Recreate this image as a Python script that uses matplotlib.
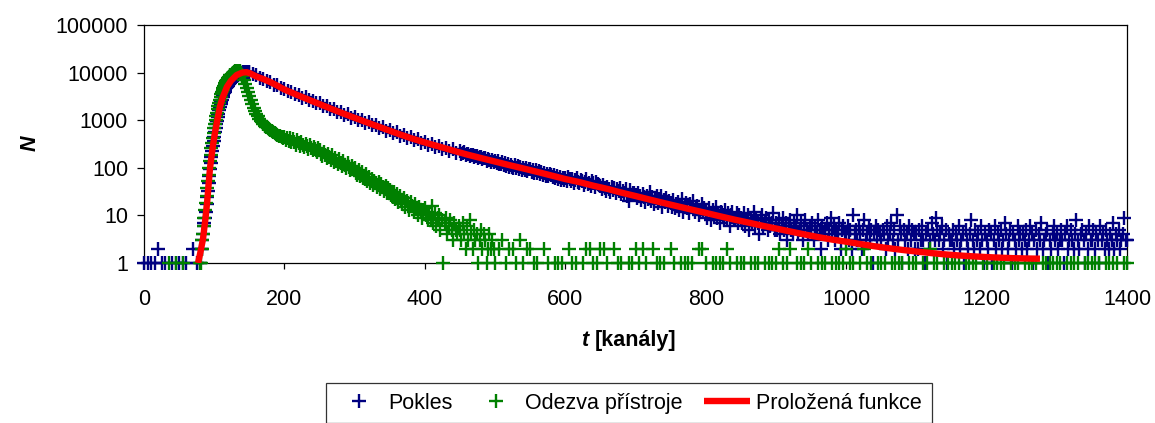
import numpy as np
import matplotlib
matplotlib.use('Agg')
import matplotlib.pyplot as plt
from matplotlib.ticker import NullLocator

plt.rcParams['font.family'] = 'Liberation Sans'

# --- measured decay (Pokles), counts per channel ---
pokles_t = np.concatenate([np.arange(0, 80, 5), np.arange(80, 150),
                           np.arange(150, 450, 5), np.arange(450, 1401, 2)])
pokles_n = [
    # 0 - 75
    1, 1, 1, 1, 2, 1, 1, 0, 1, 1, 1, 1, 1, 0, 2, 1,
    # 80 - 149
    1, 2, 2, 3, 4, 6, 7, 9, 12, 17, 24, 33, 48, 66, 95, 128, 170, 225, 290, 370,
    450, 560, 680, 820, 980, 1150, 1370, 1600, 1880, 2150, 2420, 2700, 3000, 3320, 3650, 3980, 4300, 4640, 4980, 5300,
    5620, 5900, 6180, 6450, 6720, 6980, 7240, 7480, 7720, 7950, 8180, 8400, 8620, 8820, 9020, 9200, 9380, 9550, 9700, 9850,
    9980, 10100, 10200, 10280, 10350, 10380, 10360, 10310, 10240, 10150,
    # 150 - 445
    10100, 9250, 8700, 7750, 7400, 6550, 6300, 5550, 5400, 4750,
    4480, 4090, 3950, 3520, 3420, 2980, 3010, 2610, 2580, 2260,
    2270, 1960, 1980, 1700, 1720, 1480, 1500, 1300, 1320, 1130,
    1160, 995, 1020, 875, 900, 775, 795, 680, 705, 605,
    625, 532, 552, 472, 492, 418, 440, 378, 396, 338,
    354, 306, 323, 278, 293, 251, 266, 228, 243, 207,
    # 450 - 1400
    224, 198, 206, 211, 187, 193, 199, 176, 184, 190, 166, 173, 181, 158, 165, 172, 150, 159, 163, 141, 155, 149, 134, 146, 131,
    140, 127, 136, 122, 118, 131, 114, 125, 109, 121, 106, 117, 104, 99, 113, 97, 108, 94, 104, 91, 100, 88, 97, 85, 95,
    94, 83, 88, 79, 90, 77, 85, 74, 80, 72, 79, 68, 75, 66, 73, 71, 63, 69, 60, 67, 58, 65, 56, 62, 55,
    60, 54, 63, 57, 52, 59, 48, 55, 61, 50, 47, 56, 53, 44, 51, 58, 46, 49, 42, 53, 47, 40, 50, 45, 43,
    41, 36, 44, 38, 33, 40, 35, 31, 39, 34, 37, 29, 36, 32, 38, 28, 33, 30, 35, 26, 20, 34, 27, 30, 29,
    27, 23, 30, 25, 21, 28, 24, 19, 26, 22, 31, 20, 24, 17, 23, 26, 18, 22, 25, 15, 21, 19, 23, 16, 20,
    18, 15, 21, 14, 17, 19, 13, 16, 22, 12, 15, 18, 14, 11, 17, 15, 20, 12, 14, 16, 10, 13, 17, 12, 14,
    12, 9, 14, 11, 8, 13, 10, 15, 9, 11, 7, 12, 10, 8, 13, 9, 11, 6, 10, 12, 8, 9, 11, 7, 10,
    9, 7, 11, 6, 8, 10, 5, 8, 7, 12, 6, 9, 7, 4, 8, 10, 6, 7, 9, 5, 8, 6, 7, 11, 5,
    7, 5, 8, 4, 6, 9, 5, 7, 3, 6, 8, 5, 4, 7, 6, 10, 4, 5, 7, 3, 6, 8, 5, 4, 6,
    5, 7, 3, 6, 4, 8, 5, 2, 6, 4, 5, 7, 3, 5, 9, 4, 6, 3, 5, 4, 7, 2, 5, 6, 4,
    4, 6, 3, 5, 2, 10, 4, 5, 3, 6, 4, 2, 5, 8, 3, 4, 6, 3, 5, 1, 4, 6, 3, 5, 4,
    3, 5, 4, 2, 6, 3, 4, 7, 3, 5, 2, 10, 3, 6, 4, 1, 5, 3, 4, 2, 6, 3, 5, 4, 2,
    4, 2, 5, 3, 6, 3, 1, 4, 5, 2, 3, 7, 4, 3, 9, 5, 3, 4, 6, 2, 3, 5, 1, 4, 3,
    3, 5, 2, 4, 3, 6, 2, 3, 4, 1, 5, 3, 2, 4, 8, 3, 2, 5, 3, 4, 2, 6, 3, 1, 4,
    3, 2, 5, 4, 1, 3, 6, 2, 4, 3, 5, 2, 3, 7, 4, 2, 3, 5, 1, 4, 3, 2, 6, 3, 4,
    2, 4, 3, 5, 2, 3, 6, 4, 1, 3, 5, 2, 4, 3, 7, 2, 3, 4, 5, 1, 3, 2, 4, 6, 3,
    4, 2, 3, 5, 3, 1, 4, 6, 2, 3, 5, 3, 2, 4, 8, 3, 2, 4, 5, 3, 1, 4, 2, 6, 3,
    3, 5, 2, 4, 3, 1, 6, 3, 4, 2, 5, 3, 2, 4, 3, 7, 2, 4, 3, 5, 2, 3, 4, 9, 3,
    3,
]

# --- instrument response (Odezva pristroje) ---
odezva_t = np.concatenate([np.arange(0, 80, 5), np.arange(80, 140),
                           np.arange(140, 500, 2), np.arange(500, 1401, 5)])
odezva_n = [
    # 0 - 75
    0, 0, 0, 0, 0, 0, 0, 1, 0, 1, 0, 1, 0, 0, 0, 0,
    # 80 - 139
    1, 1, 2, 3, 4, 6, 9, 13, 18, 26, 37, 52, 72, 100, 140, 190, 255, 335, 430, 540,
    670, 820, 1000, 1210, 1450, 1720, 2020, 2350, 2720, 3100, 3500, 3920, 4350, 4780, 5220, 5660, 6100, 6520, 6940, 7340,
    7730, 8100, 8450, 8780, 9100, 9400, 9680, 9940, 10180, 10400, 10600, 10760, 10880, 10940, 10920, 10800, 10560, 10200, 9700, 9080,
    # 140 - 498
    8400, 7100, 5900, 4800, 3900, 3150, 2600, 2150, 1820, 1560,
    1360, 1200, 1080, 980, 900, 830, 770, 720, 680, 645,
    610, 580, 555, 530, 510, 490, 470, 455, 440, 425,
    450, 392, 431, 370, 418, 351, 397, 342, 305, 376, 331, 290, 352, 301, 268, 322, 285, 247, 298, 262, 231, 275, 246, 213, 258,
    232, 198, 176, 214, 187, 160, 199, 171, 148, 182, 134, 163, 141, 119, 152, 128, 107, 139, 116, 97, 124, 104, 88, 111, 93,
    98, 79, 71, 89, 66, 80, 62, 57, 74, 52, 63, 48, 58, 44, 53, 47, 39, 51, 36, 45, 40, 33, 42, 30, 37,
    34, 27, 24, 31, 22, 28, 19, 25, 21, 17, 23, 15, 20, 18, 13, 19, 16, 12, 17, 14, 10, 15, 12, 9, 13,
    14, 10, 8, 12, 9, 16, 7, 11, 6, 9, 10, 5, 8, 1, 7, 9, 4, 6, 8, 5, 3, 7, 5, 4, 6,
    5, 3, 7, 4, 2, 6, 3, 8, 4, 2, 5, 3, 4, 1, 3, 5, 2, 4, 3, 1, 2, 4, 2, 3, 2,
    # 500 - 1400
    1, 2, 3, 1, 2, 2, 1, 3, 1, 2,
    2, 1, 1, 0, 2, 1, 0, 1, 1, 1,
    0, 2, 1, 1, 0, 1, 2, 2, 1, 1,
    2, 2, 1, 0, 2, 1, 1, 0, 1, 1,
    2, 1, 2, 1, 0, 2, 1, 1, 1, 0,
    2, 1, 0, 1, 1, 1, 1, 0, 2, 2,
    1, 0, 1, 1, 1, 1, 2, 1, 0, 1,
    1, 1, 0, 1, 1, 1, 0, 1, 1, 1,
    1, 2, 1, 1, 2, 0, 1, 1, 1, 2,
    1, 0, 1, 1, 1, 0, 1, 1, 1, 1,
    2, 1, 1, 0, 1, 2, 1, 1, 0, 1,
    1, 1, 0, 1, 1, 1, 1, 0, 1, 1,
    1, 0, 1, 1, 2, 1, 1, 0, 1, 1,
    1, 1, 1, 0, 1, 1, 1, 1, 0, 1,
    1, 0, 1, 1, 1, 1, 0, 1, 1, 1,
    0, 1, 1, 1, 1, 0, 1, 1, 1, 1,
    1, 1, 0, 1, 1, 1, 1, 0, 1, 1,
    1, 1, 1, 0, 1, 1, 1, 1, 0, 1,
    1,
]

# --- fitted function (Prolozena funkce) ---
fit_t = [77, 80, 84, 88, 90, 94, 98, 101, 105, 108, 112, 118, 124, 132, 140, 146, 150,
         160, 170, 180, 190, 200, 220, 240, 260, 280, 300, 320, 340, 360, 380, 400,
         420, 440, 460, 480, 500, 520, 540, 560, 580, 600, 620, 640, 660, 680, 700,
         720, 740, 760, 780, 800, 820, 840, 860, 880, 900, 920, 940, 960, 980, 1000,
         1020, 1040, 1060, 1080, 1100, 1120, 1140, 1160, 1180, 1200, 1220, 1240, 1260, 1276]
fit_n = [1.0, 1.6, 3.2, 10, 20, 100, 280, 540, 1120, 1900, 3000, 5000, 6800, 8900, 10000, 10200, 9800,
         8300, 7300, 6300, 5300, 4400, 3300, 2500, 1900, 1450, 1120, 870, 680, 530, 420, 340,
         280, 230, 190, 160, 135, 114, 97, 82, 69, 58, 50, 42, 36, 30, 25.5,
         21.5, 18.2, 15.5, 13.2, 11.3, 9.6, 8.2, 7.1, 6.1, 5.3, 4.6, 4.0, 3.5, 3.1, 2.8,
         2.5, 2.25, 2.05, 1.88, 1.74, 1.62, 1.52, 1.44, 1.38, 1.33, 1.29, 1.26, 1.24, 1.23]

y_ticks = [1, 10, 100, 1000, 10000, 100000]
x_ticks = [0, 200, 400, 600, 800, 1000, 1200, 1400]

pokles_n = np.array(pokles_n)
odezva_n = np.array(odezva_n)
# empty channels cannot be shown on a log axis
mp = pokles_n > 0
mo = odezva_n > 0

fig = plt.figure(figsize=(11.55, 4.23), dpi=100)
ax = fig.add_axes([0.1247, 0.3783, 0.8511, 0.5626])

ax.plot(pokles_t[mp], pokles_n[mp], linestyle='none', marker='+', ms=9.4, mew=1.7,
        color='#000080', clip_on=False, label='Pokles', zorder=3)
ax.plot(odezva_t[mo], odezva_n[mo], linestyle='none', marker='+', ms=9.4, mew=1.7,
        color='#008000', clip_on=False, label='Odezva přístroje', zorder=4)
ax.plot(fit_t, fit_n, color='#ff0000', lw=4.6, solid_capstyle='butt',
        label='Proložená funkce', zorder=5)

ax.set_yscale('log')
ax.set_xlim(0, 1400)
ax.set_ylim(1, 100000)
ax.set_yticks(y_ticks)
ax.set_yticklabels([str(v) for v in y_ticks])
ax.yaxis.set_minor_locator(NullLocator())
ax.set_xticks(x_ticks)
ax.set_xticklabels([str(v) for v in x_ticks])

for s in ax.spines.values():
    s.set_linewidth(0.9)
    s.set_color('black')
ax.tick_params(axis='y', direction='out', length=5, width=0.9, pad=6.5, labelsize=15.5)
ax.tick_params(axis='x', direction='out', length=4, width=0.9, pad=15, labelsize=15.5)

# axis titles: italic variable, bold text
fig.text(588 / 1155, 1 - 340 / 423, 't', ha='right', va='center', fontsize=15.5,
         fontweight='bold', fontstyle='italic')
fig.text(595 / 1155, 1 - 340 / 423, '[kanály]', ha='left', va='center', fontsize=15.5,
         fontweight='bold')
fig.text(30 / 1155, 1 - 143 / 423, 'N', ha='center', va='center', fontsize=15.5,
         fontweight='bold', fontstyle='italic', rotation=90)

leg = fig.legend(loc='upper center', bbox_to_anchor=(629 / 1155, 1 - 383 / 423), ncol=3,
                 fontsize=15.5, frameon=True, fancybox=False, edgecolor='black',
                 handlelength=2.1, handletextpad=0.3, columnspacing=1.0,
                 borderpad=0.45, borderaxespad=0)
leg.get_frame().set_linewidth(0.9)

fig.savefig('out.png', dpi=100)
